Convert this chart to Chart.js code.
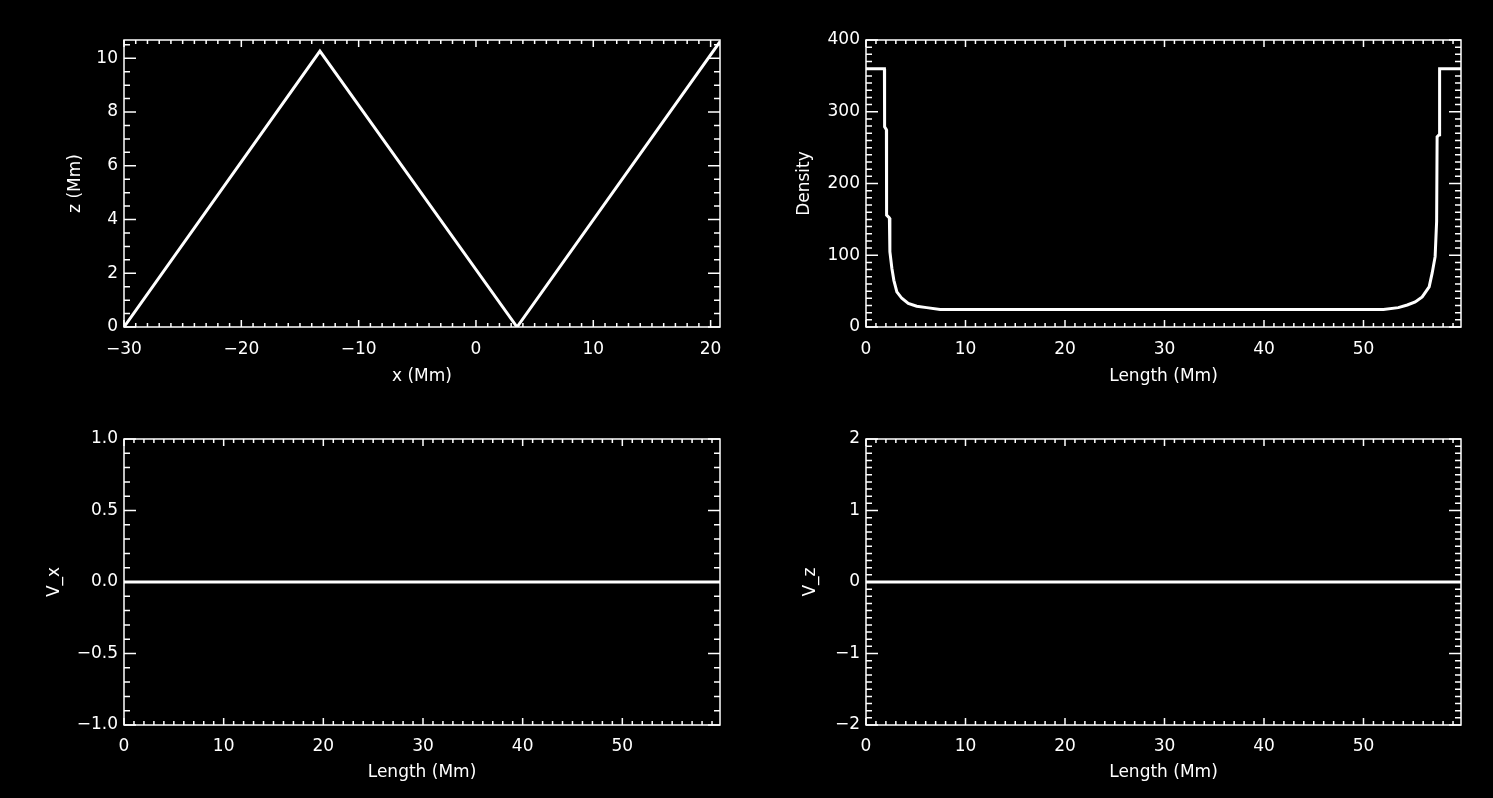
<!DOCTYPE html>
<html>
<head>
<meta charset="utf-8">
<title>Loop profile</title>
<script src="https://cdn.jsdelivr.net/npm/chart.js@4.4.1/dist/chart.umd.min.js"></script>
<style>
  html, body { margin: 0; padding: 0; background: #000; overflow: hidden; }
  #wrap { position: relative; width: 1493px; height: 798px; background: #000; }
  canvas { position: absolute; }
</style>
</head>
<body>
<div id="wrap">
  <canvas id="loopChart" width="746" height="399" style="left:0;top:0"></canvas>
  <canvas id="densChart" width="747" height="399" style="left:746px;top:0"></canvas>
  <canvas id="vxChart" width="746" height="399" style="left:0;top:399px"></canvas>
  <canvas id="vzChart" width="747" height="399" style="left:746px;top:399px"></canvas>
</div>
<script>
// loop shape, x and z in Mm
const loopX = [-30, -13.3, 3.5, 20.8];
const loopZ = [0, 10.27, 0, 10.62];

// density along the loop (Mm)
const densLen = [0, 1.85, 1.87, 2.05, 2.07, 2.35, 2.4, 2.6, 2.8, 3.1, 3.6, 4.25, 5.1, 6.1, 7.45,
                 52.0, 53.5, 54.4, 55.2, 55.9, 56.6, 56.9, 57.2, 57.35, 57.4, 57.6, 57.65, 59.8];
const density = [360, 360, 279, 275, 156, 152, 105, 82, 65, 49, 40, 33, 29, 27, 24.5,
                 24.5, 27, 30.7, 35, 42, 56, 75, 98, 147, 265, 268, 360, 360];

// velocities along the loop
const velLen = [0, 59.8];
const velX = [0, 0];
const velZ = [0, 0];

// tick labels
const loopXTicks = [-30, -20, -10, 0, 10, 20];
const loopZTicks = [0, 2, 4, 6, 8, 10];
const lenTicks = [0, 10, 20, 30, 40, 50];
const densTicks = [0, 100, 200, 300, 400];
const vxTicks = [-1, -0.5, 0, 0.5, 1];
const vzTicks = [-2, -1, 0, 1, 2];

const FONT = { family: 'DejaVu Sans', size: 17 };
const minus = s => String(s).replace('-', '\u2212');

// IDL style box: frame on all sides, inward major + minor ticks
const idlFrame = {
  id: 'idlFrame',
  afterDraw(chart, args, opts) {
    const { ctx, chartArea: a, scales: { x, y } } = chart;
    ctx.save();
    ctx.strokeStyle = '#fff';
    ctx.lineWidth = 1.5;
    ctx.strokeRect(a.left, a.top, a.right - a.left, a.bottom - a.top);
    ctx.beginPath();
    const tickX = (v, len) => {
      const p = x.getPixelForValue(v);
      ctx.moveTo(p, a.bottom); ctx.lineTo(p, a.bottom - len);
      ctx.moveTo(p, a.top); ctx.lineTo(p, a.top + len);
    };
    const tickY = (v, len) => {
      const p = y.getPixelForValue(v);
      ctx.moveTo(a.left, p); ctx.lineTo(a.left + len, p);
      ctx.moveTo(a.right, p); ctx.lineTo(a.right - len, p);
    };
    for (let i = Math.ceil(x.min / opts.xMinor - 1e-9); i * opts.xMinor <= x.max + 1e-9; i++) tickX(i * opts.xMinor, 4);
    for (let i = Math.ceil(y.min / opts.yMinor - 1e-9); i * opts.yMinor <= y.max + 1e-9; i++) tickY(i * opts.yMinor, 6);
    x.ticks.forEach(t => tickX(t.value, 7));
    y.ticks.forEach(t => tickY(t.value, 12));
    ctx.stroke();
    ctx.restore();
  }
};

function panel(id, c) {
  return new Chart(document.getElementById(id), {
    type: 'scatter',
    data: {
      datasets: [{
        data: c.xs.map((v, i) => ({ x: v, y: c.ys[i] })),
        showLine: true,
        borderColor: '#fff',
        borderWidth: 3,
        pointRadius: 0,
        tension: 0
      }]
    },
    options: {
      responsive: false,
      animation: false,
      devicePixelRatio: 1,
      layout: { padding: { left: 0, top: 40, right: c.padRight, bottom: 0 } },
      plugins: {
        legend: { display: false },
        tooltip: { enabled: false },
        idlFrame: { xMinor: c.xMinor, yMinor: c.yMinor }
      },
      scales: {
        x: {
          type: 'linear',
          min: c.xMin, max: c.xMax,
          grid: { display: false, drawTicks: false },
          border: { display: false },
          afterBuildTicks: s => { s.ticks = c.xTicks.map(v => ({ value: v })); },
          afterFit: s => { s.height = c.xHeight; },
          ticks: { color: '#fff', font: FONT, padding: c.xTickPad, maxRotation: 0, autoSkip: false,
                   callback: v => minus(v) },
          title: { display: true, text: c.xTitle, color: '#fff', font: FONT,
                   padding: { top: 0, bottom: c.xTitlePad } }
        },
        y: {
          type: 'linear',
          min: c.yMin, max: c.yMax,
          grid: { display: false, drawTicks: false },
          border: { display: false },
          afterBuildTicks: s => { s.ticks = c.yTicks.map(v => ({ value: v })); },
          afterFit: s => { s.width = c.yWidth; },
          ticks: { color: '#fff', font: FONT, padding: 6, autoSkip: false,
                   callback: v => minus(c.yFmt ? c.yFmt(v) : v) },
          title: { display: true, text: c.yTitle, color: '#fff', font: FONT,
                   padding: { top: c.yTitlePad, bottom: 0 } }
        }
      }
    },
    plugins: [idlFrame]
  });
}

panel('loopChart', {
  xs: loopX, ys: loopZ,
  xMin: -30, xMax: 20.8, yMin: 0, yMax: 10.68,
  xTicks: loopXTicks, yTicks: loopZTicks, xMinor: 1, yMinor: 0.5,
  xTitle: 'x (Mm)', yTitle: 'z (Mm)',
  padRight: 26, yWidth: 124, xHeight: 72, xTickPad: 12, xTitlePad: 12, yTitlePad: 65
});

panel('densChart', {
  xs: densLen, ys: density,
  xMin: 0, xMax: 59.8, yMin: 0, yMax: 400,
  xTicks: lenTicks, yTicks: densTicks, xMinor: 1, yMinor: 10,
  xTitle: 'Length (Mm)', yTitle: 'Density',
  padRight: 32, yWidth: 120, xHeight: 72, xTickPad: 12, xTitlePad: 12, yTitlePad: 48
});

panel('vxChart', {
  xs: velLen, ys: velX,
  xMin: 0, xMax: 59.8, yMin: -1, yMax: 1,
  xTicks: lenTicks, yTicks: vxTicks, xMinor: 1, yMinor: 0.1,
  yFmt: v => v.toFixed(1),
  xTitle: 'Length (Mm)', yTitle: 'V_x',
  padRight: 26, yWidth: 124, xHeight: 73, xTickPad: 11, xTitlePad: 15, yTitlePad: 44
});

panel('vzChart', {
  xs: velLen, ys: velZ,
  xMin: 0, xMax: 59.8, yMin: -2, yMax: 2,
  xTicks: lenTicks, yTicks: vzTicks, xMinor: 1, yMinor: 0.1,
  xTitle: 'Length (Mm)', yTitle: 'V_z',
  padRight: 32, yWidth: 120, xHeight: 73, xTickPad: 11, xTitlePad: 15, yTitlePad: 54
});
</script>
</body>
</html>
